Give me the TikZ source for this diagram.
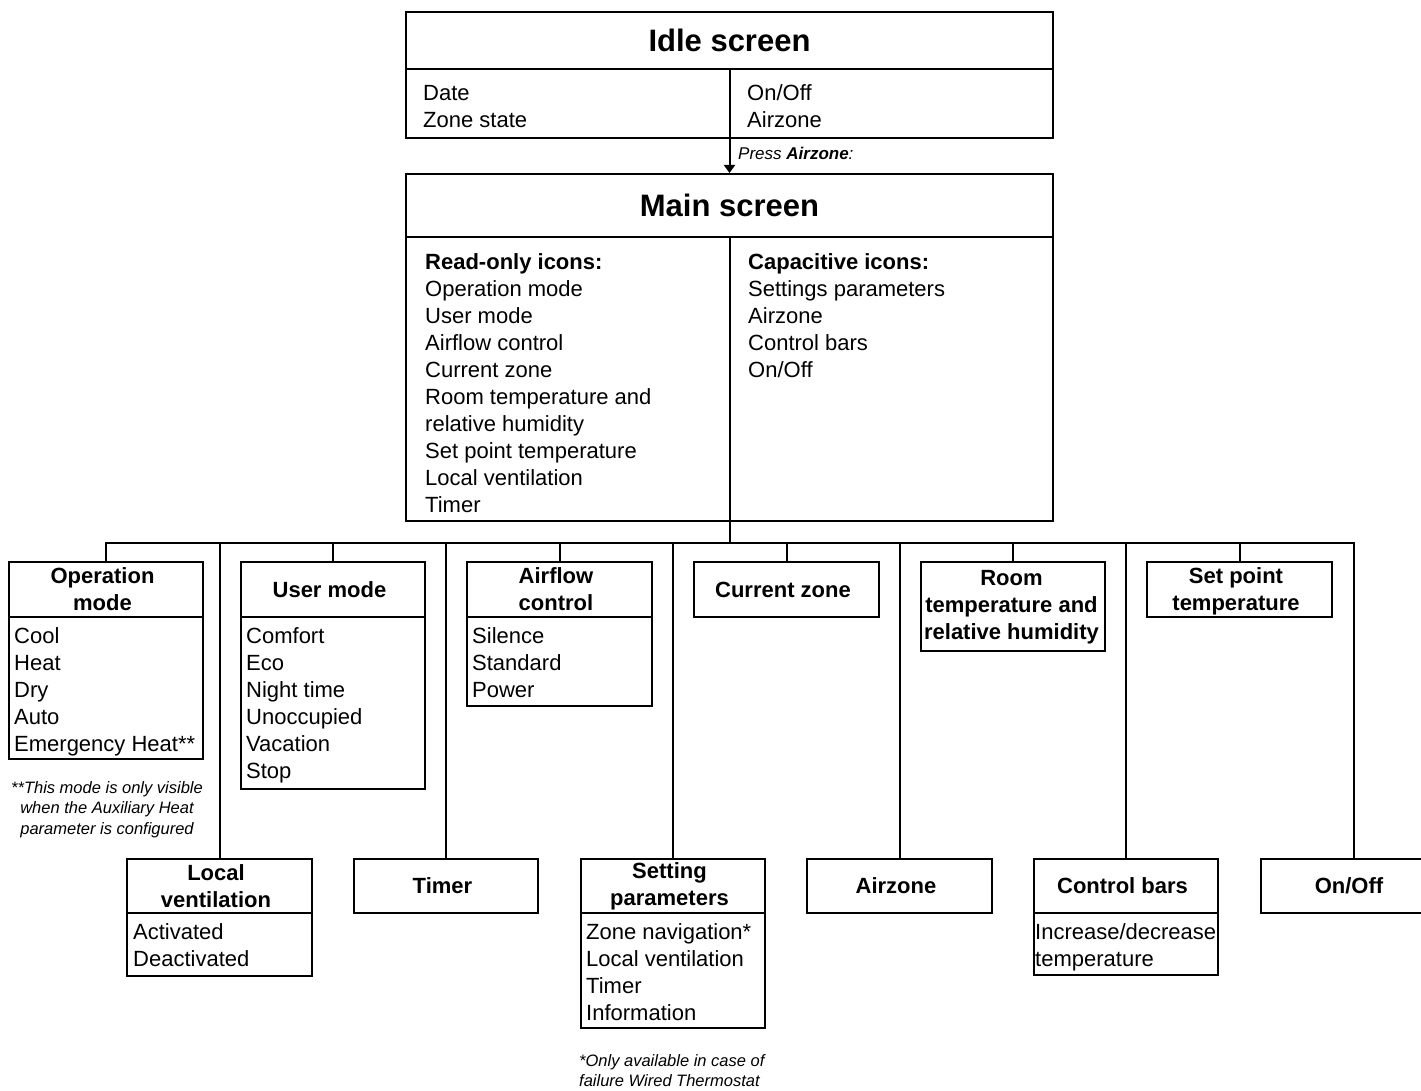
\documentclass[tikz,border=0pt]{standalone}
\usepackage{fontspec}
\setmainfont{Liberation Sans}
\usetikzlibrary{fit,arrows.meta}
\tikzset{
 box/.style={draw, line width=2pt, inner sep=0pt, rectangle},
 ttl/.style={font=\fontsize{22}{27}\selectfont\bfseries, align=center, inner sep=0pt},
 bigttl/.style={font=\fontsize{31}{37}\selectfont\bfseries, inner sep=0pt},
 body/.style={font=\fontsize{22}{27}\selectfont, align=left, anchor=north west, inner sep=0pt},
 note/.style={font=\fontsize{16.5}{20.5}\selectfont\itshape, inner sep=0pt},
 conn/.style={line width=2pt},
}
\begin{document}
\begin{tikzpicture}[x=1pt,y=-1pt]
\useasboundingbox (0,0) rectangle (1421,1091);
% Idle screen
\node[box, fit={(406,12) (1053,69)}] (idlehead) {};
\node[box, fit={(406,69) (1053,138)}] (idlebody) {};
\node[bigttl] (idlet) at (idlehead.center) {Idle screen};
\draw[conn] (idlehead.south) -- (idlebody.south);
\node[body] (idlel) at (423,85) {Date\\Zone state};
\node[body] (idler) at (747,84) {On/Off\\Airzone};
% Main screen
\node[box, fit={(406,174) (1053,237)}] (mainhead) {};
\node[box, fit={(406,237) (1053,521)}] (mainbody) {};
\node[bigttl] (maint) at (mainhead.center) {Main screen};
\draw[conn] (mainhead.south) -- (mainbody.south);
\node[body] (mainl) at (425,253) {\textbf{Read-only icons:}\\Operation mode\\User mode\\Airflow control\\Current zone\\Room temperature and\\relative humidity\\Set point temperature\\Local ventilation\\Timer};
\node[body] (mainr) at (748,253) {\textbf{Capacitive icons:}\\Settings parameters\\Airzone\\Control bars\\On/Off};
% arrow
\draw[conn, -{Triangle[width=11pt,length=8pt]}] (idlebody.south) -- (mainhead.north);
\node[note, anchor=base west, font=\fontsize{17}{20}\selectfont\itshape] (press) at (738,160) {Press \textbf{Airzone}:};
% children, top row
\node[box, fit={(9,562) (203,617)}] (ophead) {};
\node[box, fit={(9,617) (203,759)}] (opbody) {};
\node[ttl, xshift=-3.5pt] (opt) at (ophead.center) {Operation\\mode};
\node[body] (opb) at (14,627) {Cool\\Heat\\Dry\\Auto\\Emergency Heat**};
\node[note, align=center, anchor=north] (opnote) at (107,781) {**This mode is only visible\\ when the Auxiliary Heat\\parameter is configured};

\node[box, fit={(241,562) (425,617)}] (umhead) {};
\node[box, fit={(241,617) (425,789)}] (umbody) {};
\node[ttl, xshift=-3.5pt] (umt) at (umhead.center) {User mode};
\node[body] (umb) at (246,627) {Comfort\\Eco\\Night time\\Unoccupied\\Vacation\\Stop};

\node[box, fit={(467,562) (652,617)}] (afhead) {};
\node[box, fit={(467,617) (652,706)}] (afbody) {};
\node[ttl, xshift=-3.5pt] (aft) at (afhead.center) {Airflow\\control};
\node[body] (afb) at (472,627) {Silence\\Standard\\Power};

\node[box, fit={(694,562) (879,617)}] (czhead) {};
\node[ttl, xshift=-3.5pt] (czt) at (czhead.center) {Current zone};

\node[box, fit={(921,562) (1105,651)}] (rthead) {};
\node[ttl, xshift=-1.5pt, yshift=-1pt] (rtt) at (rthead.center) {Room\\temperature and\\relative humidity};

\node[box, fit={(1147,562) (1332,617)}] (sphead) {};
\node[ttl, xshift=-3.5pt, yshift=-2pt] (spt) at (sphead.center) {Set point\\temperature};

% children, bottom row
\node[box, fit={(127,859) (312,913)}] (lvhead) {};
\node[box, fit={(127,913) (312,976)}] (lvbody) {};
\node[ttl, xshift=-3.5pt] (lvt) at (lvhead.center) {Local\\ventilation};
\node[body] (lvb) at (133,923) {Activated\\Deactivated};

\node[box, fit={(354,859) (538,913)}] (tmhead) {};
\node[ttl, xshift=-3.5pt] (tmt) at (tmhead.center) {Timer};

\node[box, fit={(581,859) (765,913)}] (sehead) {};
\node[box, fit={(581,913) (765,1028)}] (sebody) {};
\node[ttl, xshift=-3.5pt] (set) at (sehead.center) {Setting\\parameters};
\node[body] (seb) at (586,923) {Zone navigation*\\Local ventilation\\Timer\\Information};
\node[note, align=left, anchor=north west] (senote) at (579,1054) {*Only available in case of\\failure Wired Thermostat};

\node[box, fit={(807,859) (992,913)}] (azhead) {};
\node[ttl, xshift=-3.5pt] (azt) at (azhead.center) {Airzone};

\node[box, fit={(1034,859) (1218,913)}] (cbhead) {};
\node[box, fit={(1034,913) (1218,975)}] (cbbody) {};
\node[ttl, xshift=-3.5pt] (cbt) at (cbhead.center) {Control bars};
\node[body] (cbb) at (1035,923) {Increase/decrease\\temperature};

\node[box, fit={(1261,859) (1446,913)}] (oohead) {};
\node[ttl, xshift=-4.5pt] (oot) at (oohead.center) {On/Off};

% connectors
\coordinate (bus) at (729.5,543);
\draw[conn] (mainbody.south) -- (bus);
\foreach \c in {ophead,lvhead,umhead,tmhead,afhead,sehead,czhead,azhead,rthead,cbhead,sphead,oohead}
  \draw[conn] (bus) -| (\c.north);
\end{tikzpicture}
\end{document}
